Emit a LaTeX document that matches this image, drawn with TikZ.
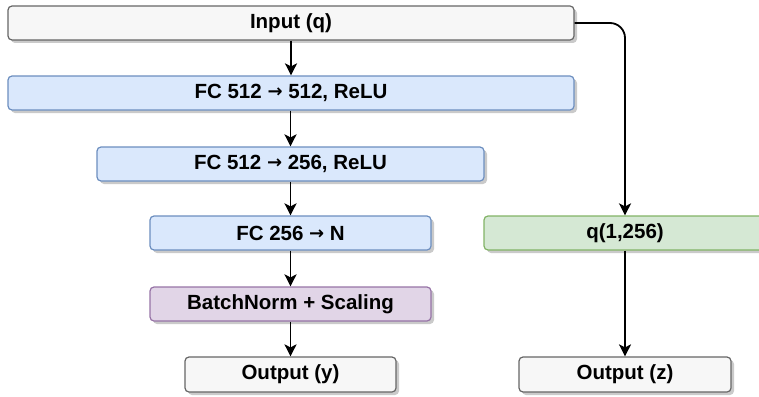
\documentclass[tikz,border=0pt]{standalone}
\usepackage{fontspec}
\setmainfont{Liberation Sans}
\newfontfamily\arrowfont{DejaVu Sans}
\usepackage{tikz}
\usetikzlibrary{shadows,arrows.meta}

\definecolor{greyfill}{HTML}{F7F7F7}
\definecolor{greyline}{HTML}{666666}
\definecolor{bluefill}{HTML}{DAE8FC}
\definecolor{blueline}{HTML}{6C8EBF}
\definecolor{greenfill}{HTML}{D5E8D4}
\definecolor{greenline}{HTML}{82B366}
\definecolor{purplefill}{HTML}{E1D5E7}
\definecolor{purpleline}{HTML}{9673A6}

\newcommand{\toarrow}{{\arrowfont\fontsize{18}{20}\selectfont\raisebox{1pt}{→}}}

\tikzset{
  box/.style={draw, rounded corners=4pt, line width=1.2pt, minimum height=34pt,
    inner sep=0pt, font=\fontsize{20.5}{24}\selectfont\bfseries,
    drop shadow={shadow xshift=3pt, shadow yshift=-3pt, fill=black!35, opacity=0.6}},
  greybox/.style={box, fill=greyfill, draw=greyline},
  bluebox/.style={box, fill=bluefill, draw=blueline},
  greenbox/.style={box, fill=greenfill, draw=greenline},
  purplebox/.style={box, fill=purplefill, draw=purpleline},
  arr/.style={-{Stealth[length=12pt,width=12pt,inset=3pt]}, line width=1.8pt}
}

\begin{document}
\begin{tikzpicture}[x=1pt,y=-1pt]
\useasboundingbox (0,0) rectangle (759,396);
% left column
\node [greybox, minimum width=566pt] (input) at (291,23) {Input (q)};
\node [bluebox, minimum width=566pt] (fc1) at (291,93) {FC 512 \toarrow{} 512, ReLU};
\node [bluebox, minimum width=387pt] (fc2) at (290.5,164) {FC 512 \toarrow{} 256, ReLU};
\node [bluebox, minimum width=281pt] (fc3) at (290.5,233) {FC 256 \toarrow{} N};
\node [purplebox, minimum width=281pt] (bn) at (290.5,304) {BatchNorm + Scaling};
\node [greybox, minimum width=211pt, minimum height=35pt] (outy) at (290.5,374.5) {Output (y)};
% right column
\node [greenbox, minimum width=282pt] (qvec) at (625,233) {q(1,256)};
\node [greybox, minimum width=212pt, minimum height=35pt] (outz) at (625,374.5) {Output (z)};
% connectors
\draw [arr] (input) -- (fc1);
\draw [arr] (fc1.south -| fc2.north) -- (fc2);
\draw [arr] (fc2) -- (fc3);
\draw [arr] (fc3) -- (bn);
\draw [arr] (bn) -- (outy);
\draw [arr, rounded corners=15pt] (input.east) -| (qvec.north);
\draw [arr] (qvec) -- (outz);
\end{tikzpicture}
\end{document}
